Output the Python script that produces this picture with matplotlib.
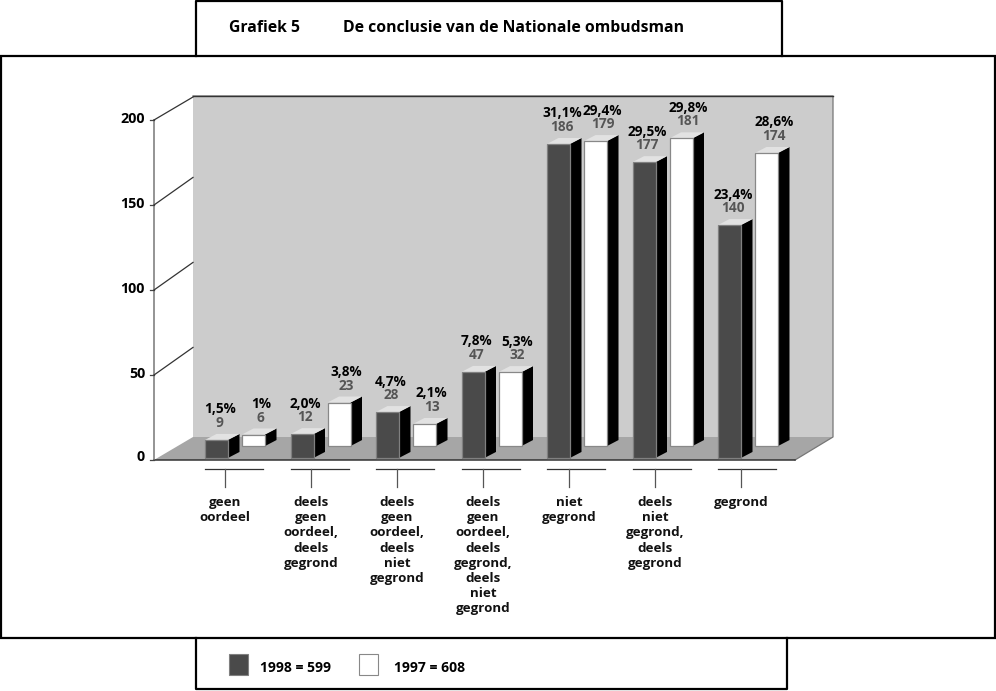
import matplotlib.pyplot as plt
from matplotlib.patches import Polygon, Rectangle

categories = [
    "geen\noordeel",
    "deels\ngeen\noordeel,\ndeels\ngegrond",
    "deels\ngeen\noordeel,\ndeels\nniet\ngegrond",
    "deels\ngeen\noordeel,\ndeels\ngegrond,\ndeels\nniet\ngegrond",
    "niet\ngegrond",
    "deels\nniet\ngegrond,\ndeels\ngegrond",
    "gegrond",
]

# printed labels
counts_1998 = [9, 12, 28, 47, 186, 177, 140]
counts_1997 = [6, 23, 13, 32, 179, 181, 174]
pct_1998 = ["1,5%", "2,0%", "4,7%", "7,8%", "31,1%", "29,5%", "23,4%"]
pct_1997 = ["1%", "3,8%", "2,1%", "5,3%", "29,4%", "29,8%", "28,6%"]

# bar heights as drawn in the picture (not always the printed number)
heights_1998 = [10.6, 14, 27, 50.6, 184.7, 174, 137]
heights_1997 = [6.8, 25.6, 13, 43.5, 179.4, 181, 172.4]

yticks = [0, 50, 100, 150, 200]

W, H = 996, 691
FONT = "Open Sans"

# chart scales: one category = 85.5 px, one unit = 1.7 px
PX_X = 85.5
PX_Y = 1.7

fig = plt.figure(figsize=(W / 100, H / 100), dpi=100)

# page layer in pixels: frames, title, legend
page = fig.add_axes([0, 0, 1, 1], zorder=1)
page.set_xlim(0, W)
page.set_ylim(H, 0)
page.axis("off")

# chart layer: x = category index, y = value
ax = fig.add_axes([0, 0, 1, 1], zorder=2)
ax.set_xlim(-205 / PX_X, (W - 205) / PX_X)
ax.set_ylim((460 - H) / PX_Y, 460 / PX_Y)
ax.axis("off")
ax.patch.set_alpha(0)

lw = 1.6
page.plot([196, 196, 782, 782], [56, 1, 1, 56], color="black", lw=lw)
page.add_patch(Rectangle((1, 56), 994, 582, fc="none", ec="black", lw=lw))
page.plot([196, 196, 787, 787], [638, 689, 689, 638], color="black", lw=lw)

page.text(229, 28, "Grafiek 5", family=FONT, weight="bold", fontsize=11.3, va="center")
page.text(343, 28, "De conclusie van de Nationale ombudsman", family=FONT,
          weight="bold", fontsize=11.35, va="center")


def xp(px):
    return (px - 205) / PX_X


def yp(px):
    return (460 - px) / PX_Y


# back wall and floor
ax.add_patch(Polygon([(xp(193), yp(96)), (xp(833), yp(96)), (xp(833), yp(437)), (xp(193), yp(437))],
                     fc="#cccccc", ec="none", zorder=1))
ax.add_patch(Polygon([(xp(154), yp(460)), (xp(193), yp(437)), (xp(833), yp(437)), (xp(795), yp(460))],
                     fc="#a6a6a6", ec="none", zorder=1))
ax.plot([xp(193), xp(833), xp(833), xp(795)], [yp(96), yp(96), yp(437), yp(460)],
        color="#777777", lw=0.9, zorder=2)
ax.plot([xp(193), xp(833)], [yp(96), yp(96)], color="#333333", lw=1, zorder=2)
ax.plot([xp(154), xp(795)], [yp(460), yp(460)], color="#333333", lw=1.1, zorder=2)
ax.plot([xp(154), xp(154)], [yp(460), 200], color="#777777", lw=1.1, zorder=2)

# wall lines and tick labels
for t in yticks:
    ax.plot([xp(150), xp(154)], [t, t], color="#444444", lw=0.9, zorder=2)
    if t > 0:
        ax.plot([xp(154), xp(193)], [t, t + 23 / PX_Y * (1 if t > 150 else 1.2)],
                color="#333333", lw=0.9, zorder=2)
    ax.text(xp(145), t + (2 if t == 0 else 0.5), str(t), family=FONT, weight="bold",
            fontsize=10.3, ha="right", va="center", zorder=6)

BAR_W = 23 / PX_X
DX = 11.5 / PX_X
DY = 6 / PX_Y


def bar3d(left, base, h, face, edge):
    top = base + h
    ax.add_patch(Polygon([(left + BAR_W, base), (left + BAR_W + DX, base + DY),
                          (left + BAR_W + DX, top + DY), (left + BAR_W, top)],
                         fc="black", ec="none", zorder=4))
    ax.add_patch(Polygon([(left, top), (left + DX, top + DY),
                          (left + BAR_W + DX, top + DY), (left + BAR_W, top)],
                         fc="#e2e2e2", ec="none", zorder=4))
    ax.add_patch(Rectangle((left, base), BAR_W, h, fc=face, ec=edge, lw=0.9, zorder=5))


def bar_labels(left, base, h, pct, n, shift):
    x = left + (BAR_W + DX) / 2 + shift / PX_X
    top = base + h + DY
    ax.text(x, top + 11 / PX_Y, str(n), family=FONT, weight="bold", fontsize=9.8,
            color="#555555", ha="center", va="center", zorder=6)
    ax.text(x, top + 24.5 / PX_Y, pct, family=FONT, weight="bold", fontsize=9.8,
            color="black", ha="center", va="center", zorder=6)


base_back = 8.2
base_front = 1.2
offset_1997 = 37 / PX_X

# back row first so the front row sits on top
for i in range(len(categories)):
    bar3d(i + offset_1997, base_back, heights_1997[i], "white", "#888888")
    bar_labels(i + offset_1997, base_back, heights_1997[i], pct_1997[i], counts_1997[i], 1.5)
for i in range(len(categories)):
    bar3d(i, base_front, heights_1998[i], "#4a4a4a", "#808080")
    bar_labels(i, base_front, heights_1998[i], pct_1998[i], counts_1998[i], -2.5)

# category brackets and labels
for i, cat in enumerate(categories):
    ax.plot([i, i + 58 / PX_X], [yp(469), yp(469)], color="#333333", lw=0.9)
    cx = xp(225 + 86 * i)
    ax.plot([cx, cx], [yp(469), yp(487)], color="#555555", lw=0.9)
    ax.text(cx, yp(496), cat, family=FONT, weight="bold", fontsize=9.6, ha="center", va="top",
            linespacing=1.22, color="#111111")

# legend
page.add_patch(Rectangle((229, 654), 19, 21, fc="#4a4a4a", ec="#808080", lw=0.8))
page.text(260, 668, "1998 = 599", family=FONT, weight="bold", fontsize=10, va="center")
page.add_patch(Rectangle((359, 654), 19, 21, fc="white", ec="#888888", lw=0.8))
page.text(394, 668, "1997 = 608", family=FONT, weight="bold", fontsize=10, va="center")

plt.savefig("out.png", dpi=100)
